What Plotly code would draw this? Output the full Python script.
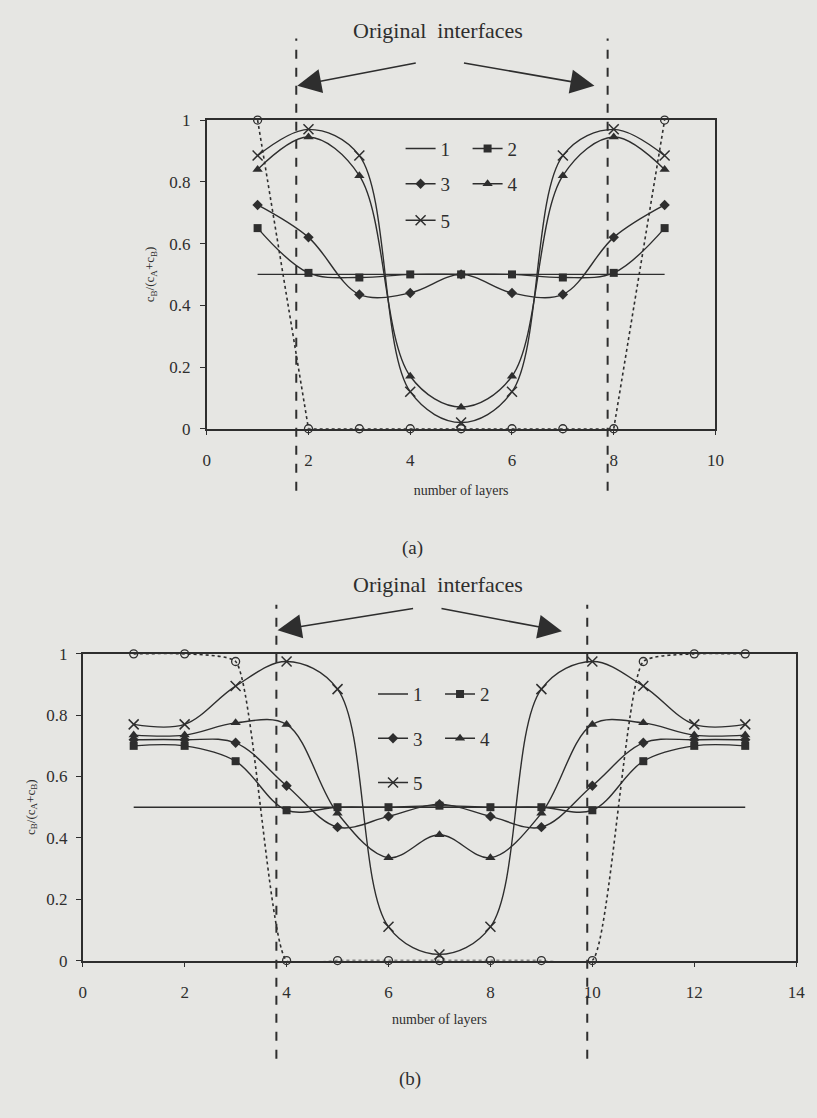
import plotly.graph_objects as go

W, H = 817, 1118

# ---------------- data (a) ----------------
layers_a = [1, 2, 3, 4, 5, 6, 7, 8, 9]
a_initial = [1.0, 0.0, 0.0, 0.0, 0.0, 0.0, 0.0, 0.0, 1.0]
a_s1 = [0.5, 0.5, 0.5, 0.5, 0.5, 0.5, 0.5, 0.5, 0.5]
a_s2 = [0.65, 0.505, 0.49, 0.50, 0.50, 0.50, 0.49, 0.505, 0.65]
a_s3 = [0.725, 0.62, 0.435, 0.44, 0.50, 0.44, 0.435, 0.62, 0.725]
a_s4 = [0.84, 0.945, 0.82, 0.17, 0.07, 0.17, 0.82, 0.945, 0.84]
a_s5 = [0.885, 0.97, 0.885, 0.12, 0.02, 0.12, 0.885, 0.97, 0.885]
a_interfaces = [1.76, 7.88]

# ---------------- data (b) ----------------
layers_b = [1, 2, 3, 4, 5, 6, 7, 8, 9, 10, 11, 12, 13]
b_initial = [1.0, 1.0, 0.975, 0.0, 0.0, 0.0, 0.0, 0.0, 0.0, 0.0, 0.975, 1.0, 1.0]
b_s1 = [0.5, 0.5, 0.5, 0.5, 0.5, 0.5, 0.5, 0.5, 0.5, 0.5, 0.5, 0.5, 0.5]
b_s2 = [0.70, 0.70, 0.65, 0.49, 0.50, 0.50, 0.505, 0.50, 0.50, 0.49, 0.65, 0.70, 0.70]
b_s3 = [0.72, 0.72, 0.71, 0.57, 0.435, 0.47, 0.51, 0.47, 0.435, 0.57, 0.71, 0.72, 0.72]
b_s4 = [0.735, 0.735, 0.775, 0.77, 0.48, 0.335, 0.41, 0.335, 0.48, 0.77, 0.775, 0.735, 0.735]
b_s5 = [0.77, 0.77, 0.895, 0.975, 0.885, 0.11, 0.02, 0.11, 0.885, 0.975, 0.895, 0.77, 0.77]
b_interfaces = [3.80, 9.90]

series_names = ["1", "2", "3", "4", "5"]

INK = "#2e2e2e"
BG = "#e6e6e3"
SERIF = "Liberation Serif, Times New Roman, serif"


def px_x(p):
    return p / W


def px_y(p):
    return 1 - p / H


fig = go.Figure()

marker_styles = [
    None,
    dict(symbol="square", size=8, color=INK),
    dict(symbol="diamond", size=8, color=INK),
    dict(symbol="triangle-up", size=9, color=INK),
    dict(symbol="x-thin-open", size=10, color=INK, line=dict(width=1.5, color=INK)),
]


def add_panel(xs, initial, series, xa, ya, legends, init_shape):
    fig.add_trace(go.Scatter(
        x=xs, y=initial, xaxis=xa, yaxis=ya, mode="lines+markers",
        line=dict(color=INK, width=1.6, dash="dot", shape=init_shape, smoothing=0.5),
        marker=dict(symbol="circle-open", size=8, color=INK, line=dict(width=1.3, color=INK)),
        showlegend=False, cliponaxis=False, hoverinfo="skip"))
    for i, (name, ys) in enumerate(zip(series_names, series)):
        ms = marker_styles[i]
        tr = dict(x=xs, y=ys, xaxis=xa, yaxis=ya, name=name,
                  line=dict(color=INK, width=1.4, shape="spline", smoothing=1.0),
                  cliponaxis=False, legend=legends[i])
        if ms is None:
            tr["mode"] = "lines"
        else:
            tr["mode"] = "lines+markers"
            tr["marker"] = ms
        fig.add_trace(go.Scatter(**tr))


add_panel(layers_a, a_initial, [a_s1, a_s2, a_s3, a_s4, a_s5], "x", "y",
          ["legend", "legend", "legend2", "legend2", "legend3"], "linear")
add_panel(layers_b, b_initial, [b_s1, b_s2, b_s3, b_s4, b_s5], "x2", "y2",
          ["legend4", "legend4", "legend5", "legend5", "legend6"], "spline")

axis_common = dict(showline=True, linecolor=INK, linewidth=1.5, mirror=True,
                   ticks="outside", ticklen=5, tickcolor=INK, tickwidth=1.3,
                   showgrid=False, zeroline=False,
                   tickfont=dict(family=SERIF, size=17, color=INK))

ytitle = "c<sub>B</sub>/(c<sub>A</sub>+c<sub>B</sub>)"
xtitle = "number of layers"
tfont_x = dict(family=SERIF, size=14, color=INK)
tfont_y = dict(family=SERIF, size=13, color=INK)

fig.update_layout(
    width=W, height=H, margin=dict(l=0, r=0, t=0, b=0),
    paper_bgcolor=BG, plot_bgcolor=BG,
    xaxis=dict(domain=[px_x(206), px_x(723)], range=[0, 10], dtick=2, anchor="y",
               ticklabelstandoff=10,
               title=dict(text=xtitle, font=tfont_x, standoff=16), **axis_common),
    yaxis=dict(domain=[px_y(427), px_y(113)], range=[0, 1], dtick=0.2, anchor="x",
               ticklabelstandoff=6,
               title=dict(text=ytitle, font=tfont_y, standoff=12), **axis_common),
    xaxis2=dict(domain=[px_x(80), px_x(805)], range=[0, 14], dtick=2, anchor="y2",
                ticklabelstandoff=10,
                title=dict(text=xtitle, font=tfont_x, standoff=14), **axis_common),
    yaxis2=dict(domain=[px_y(968), px_y(656)], range=[0, 1], dtick=0.2, anchor="x2",
                ticklabelstandoff=5,
                title=dict(text=ytitle, font=tfont_y, standoff=8), **axis_common),
)

leg_common = dict(orientation="h", bgcolor="rgba(0,0,0,0)", xanchor="left", yanchor="middle",
                  font=dict(family=SERIF, size=19, color=INK), entrywidth=22,
                  entrywidthmode="pixels", itemwidth=30, tracegroupgap=0)
fig.update_layout(
    legend=dict(x=px_x(403), y=px_y(142), **leg_common),
    legend2=dict(x=px_x(403), y=px_y(178), **leg_common),
    legend3=dict(x=px_x(403), y=px_y(215), **leg_common),
    legend4=dict(x=px_x(375), y=px_y(697), **leg_common),
    legend5=dict(x=px_x(375), y=px_y(742), **leg_common),
    legend6=dict(x=px_x(375), y=px_y(787), **leg_common),
)

# interface dashed lines
for xv in a_interfaces:
    fig.add_shape(type="line", xref="x", yref="paper", x0=xv, x1=xv,
                  y0=px_y(490), y1=px_y(30), line=dict(color=INK, width=2, dash="dash"))
for xv in b_interfaces:
    fig.add_shape(type="line", xref="x2", yref="paper", x0=xv, x1=xv,
                  y0=px_y(1068), y1=px_y(606), line=dict(color=INK, width=2, dash="dash"))


def label(text, cx, cy, size):
    fig.add_annotation(text=text, x=px_x(cx), y=px_y(cy), xref="paper", yref="paper",
                       xanchor="center", yanchor="middle",
                       showarrow=False, font=dict(family=SERIF, size=size, color=INK))


def arrow(x_tip, y_tip, x_tail, y_tail):
    fig.add_annotation(text="", x=px_x(x_tip), y=px_y(y_tip), xref="paper", yref="paper",
                       ax=x_tail - x_tip, ay=y_tail - y_tip, axref="pixel", ayref="pixel",
                       showarrow=True, arrowhead=2, arrowsize=3, arrowwidth=1.6,
                       arrowcolor=INK, standoff=0, startstandoff=0)


label("Original  interfaces", 441, 22, 22)
arrow(298, 78, 418, 55)
arrow(600, 78, 468, 55)
label("(a)", 415, 548, 19)

label("Original  interfaces", 441, 585, 22)
arrow(278, 632, 415, 610)
arrow(567, 633, 445, 610)
label("(b)", 413, 1088, 19)

fig.write_html("out.html", config={"displayModeBar": False},
               post_script="document.body.style.margin='0';")
